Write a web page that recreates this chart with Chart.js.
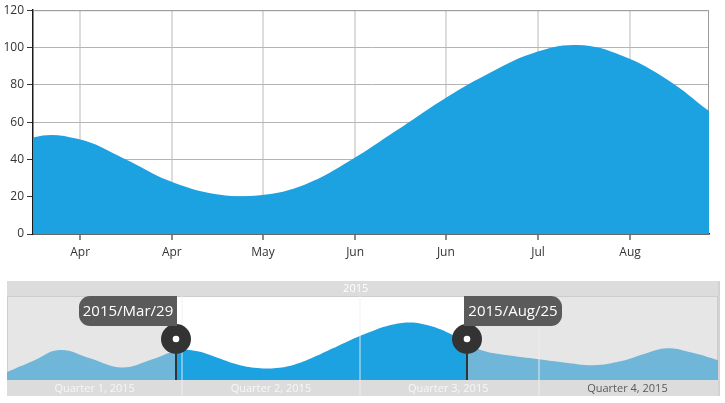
<!DOCTYPE html>
<html><head><meta charset="utf-8">
<script src="https://cdn.jsdelivr.net/npm/chart.js@4/dist/chart.umd.min.js"></script>
<style>
html,body{margin:0;padding:0;background:#fff;}
#wrap{position:relative;width:725px;height:403px;overflow:hidden;}
#main{position:absolute;left:0;top:0;width:725px;height:260px;}
#nav{position:absolute;left:0;top:281px;width:725px;height:115px;}
</style></head><body>
<div id="wrap">
<canvas id="main" width="725" height="260"></canvas>
<canvas id="nav" width="725" height="115"></canvas>
</div>
<script>
// ---- data (day of year 2015, Jan 1 = 0) ----
const days   = [0, 13, 27, 43, 59, 75, 87, 97, 107, 117, 127, 137, 147, 157, 167, 177, 187, 197, 207, 217, 227, 236, 244, 258, 272, 287, 301, 315, 327, 339, 352, 365];
const values = [14, 33, 53, 38, 22, 37, 51.7, 50.9, 40.5, 28.5, 21.5, 20.8, 26.6, 39.5, 55.3, 71.5, 85.5, 96.8, 101.3, 95.5, 82.5, 66, 52, 43, 37, 30.5, 26, 33, 46, 56, 48, 35];

// selected range
const selStart = 87;   // 2015/Mar/29
const selEnd = 236;    // 2015/Aug/25
const selLabels = ['2015/Mar/29', '2015/Aug/25'];

// main chart axis ticks
const tickDays = [97.4, 117.6, 137.7, 158, 178, 198.3, 218.6];
const tickLabels = ['Apr', 'Apr', 'May', 'Jun', 'Jun', 'Jul', 'Aug'];
const yMin = 0, yMax = 120, yStep = 20;

// navigator labels
const yearLabel = '2015';
const yearLabelDay = 179;
const quarterMid = [45, 135.5, 226.5, 318.5];
const quarterLabels = ['Quarter 1, 2015', 'Quarter 2, 2015', 'Quarter 3, 2015', 'Quarter 4, 2015'];
const quarterBounds = [90, 181, 273];
const quarterColors = ['#f7f7f7', '#f7f7f7', '#f7f7f7', '#5a5a5a'];
const navMax = 148;

const FONT = "'Open Sans', sans-serif";
const DARK = '#1ca1e1';
const LIGHT = '#6fb6d9';
const points = days.map((d, i) => ({ x: d, y: values[i] }));

// ---- main chart ----
const frame = {
  id: 'frame',
  beforeDatasetsDraw(chart) {
    const { ctx, chartArea: a } = chart;
    ctx.save();
    ctx.strokeStyle = '#9a9a9a';
    ctx.lineWidth = 1;
    ctx.beginPath();
    ctx.moveTo(a.left, a.top + 0.5);
    ctx.lineTo(a.right - 0.5, a.top + 0.5);
    ctx.lineTo(a.right - 0.5, a.bottom);
    ctx.stroke();
    ctx.restore();
  }
};

const lineEl = { line: { tension: 0.4, capBezierPoints: false, borderWidth: 0 }, point: { radius: 0 } };

new Chart(document.getElementById('main'), {
  type: 'line',
  data: { datasets: [{ data: points, fill: 'origin', backgroundColor: DARK, borderColor: DARK }] },
  options: {
    responsive: false, animation: false,
    elements: lineEl,
    plugins: { legend: { display: false }, tooltip: { enabled: false } },
    layout: { padding: { top: 9, right: 16, left: 0, bottom: 0 } },
    scales: {
      x: {
        type: 'linear', min: selStart, max: selEnd,
        afterBuildTicks: s => { s.ticks = tickDays.map(v => ({ value: v })); },
        afterFit: s => { s.height = 26; },
        ticks: { callback: (v, i) => tickLabels[i], color: '#333', font: { family: FONT, size: 12 }, padding: 5, maxRotation: 0, autoSkip: false },
        grid: { color: '#dcdcdc', lineWidth: 2, tickLength: 6, tickColor: '#8a8a8a', tickWidth: 2 },
        border: { color: '#1a1a1a', width: 1.5 }
      },
      y: {
        min: yMin, max: yMax,
        afterFit: s => { s.width = 33; },
        ticks: { stepSize: yStep, color: '#333', font: { family: FONT, size: 12 }, padding: 3 },
        grid: { color: '#b4b4b4', lineWidth: 1, tickLength: 6, tickColor: '#333' },
        border: { color: '#1a1a1a', width: 1.5 }
      }
    }
  },
  plugins: [frame]
});

// ---- navigator ----
function navFill(c) {
  const chart = c.chart;
  const a = chart.chartArea;
  if (!a) return DARK;
  const x = chart.scales.x;
  const g = chart.ctx.createLinearGradient(a.left, 0, a.right, 0);
  const p1 = Math.min(1, Math.max(0, (x.getPixelForValue(selStart) - a.left) / a.width));
  const p2 = Math.min(1, Math.max(0, (x.getPixelForValue(selEnd) - a.left) / a.width));
  g.addColorStop(0, LIGHT); g.addColorStop(p1, LIGHT);
  g.addColorStop(p1, DARK); g.addColorStop(p2, DARK);
  g.addColorStop(p2, LIGHT); g.addColorStop(1, LIGHT);
  return g;
}

const navBg = {
  id: 'navBg',
  beforeDraw(chart) {
    const { ctx, chartArea: a } = chart;
    const x = chart.scales.x;
    ctx.save();
    ctx.fillStyle = '#dcdcdc';
    ctx.fillRect(a.left, 0, a.width, a.top);
    ctx.fillRect(a.left, a.bottom, a.width, chart.height - a.bottom);
    ctx.fillStyle = '#e6e6e6';
    ctx.fillRect(a.left, a.top, a.width, a.height);
    const s = x.getPixelForValue(selStart), e = x.getPixelForValue(selEnd);
    ctx.fillStyle = '#fff';
    ctx.fillRect(s, a.top, e - s, a.height);
    ctx.fillStyle = '#d2d2d2';
    ctx.fillRect(a.right, 0, 2, chart.height);
    ctx.strokeStyle = '#cdcdcd';
    ctx.lineWidth = 1;
    ctx.strokeRect(a.left + 0.5, a.top + 0.5, a.width - 1, a.height - 1);
    ctx.restore();
  },
  afterDatasetsDraw(chart) {
    const { ctx, chartArea: a } = chart;
    const x = chart.scales.x;
    ctx.save();
    quarterBounds.forEach(b => {
      const px = Math.round(x.getPixelForValue(b));
      ctx.fillStyle = 'rgba(240,240,240,0.45)';
      ctx.fillRect(px - 1, a.top, 2, chart.height - a.top);
    });
    ctx.restore();
  }
};

const handles = {
  id: 'handles',
  afterDraw(chart) {
    const { ctx, chartArea: a } = chart;
    const x = chart.scales.x;
    ctx.save();
    [selStart, selEnd].forEach((d, i) => {
      const px = Math.round(x.getPixelForValue(d));
      ctx.fillStyle = '#333';
      ctx.fillRect(px - 1, a.top, 2, a.height);
      const cy = a.top + 43;
      ctx.beginPath(); ctx.arc(px, cy, 15, 0, Math.PI * 2); ctx.fill();
      ctx.fillStyle = '#fff';
      ctx.beginPath(); ctx.arc(px, cy, 3.3, 0, Math.PI * 2); ctx.fill();
      const w = 98, h = 30;
      const bx = i === 0 ? px + 1 - w : px - 3;
      const by = a.top;
      ctx.fillStyle = '#5a5a5a';
      ctx.beginPath();
      if (ctx.roundRect) ctx.roundRect(bx, by, w, h, i === 0 ? [11, 0, 0, 11] : [0, 11, 11, 0]);
      else ctx.rect(bx, by, w, h);
      ctx.fill();
      ctx.fillStyle = '#fff';
      ctx.font = "15px " + FONT;
      ctx.textAlign = 'center';
      ctx.textBaseline = 'middle';
      ctx.fillText(selLabels[i], bx + w / 2, by + h / 2 + 1);
    });
    ctx.restore();
  }
};

new Chart(document.getElementById('nav'), {
  type: 'line',
  data: { datasets: [{ data: points, fill: 'origin', backgroundColor: navFill, borderColor: DARK }] },
  options: {
    responsive: false, animation: false,
    elements: lineEl,
    plugins: { legend: { display: false }, tooltip: { enabled: false } },
    layout: { padding: { left: 7, right: 7, top: 0, bottom: 0 } },
    scales: {
      x: {
        type: 'linear', position: 'bottom', min: 0, max: 365,
        afterBuildTicks: s => { s.ticks = quarterMid.map(v => ({ value: v })); },
        afterFit: s => { s.height = 16; },
        ticks: { callback: (v, i) => quarterLabels[i], color: c => quarterColors[c.index], font: { family: FONT, size: 11 }, padding: 2, maxRotation: 0, autoSkip: false },
        grid: { display: false, drawTicks: false },
        border: { display: false }
      },
      xTop: {
        type: 'linear', position: 'top', min: 0, max: 365,
        afterBuildTicks: s => { s.ticks = [{ value: yearLabelDay }]; },
        afterFit: s => { s.height = 15; },
        ticks: { callback: () => yearLabel, color: '#fff', font: { family: FONT, size: 11 }, padding: 1, maxRotation: 0, autoSkip: false },
        grid: { display: false, drawTicks: false },
        border: { display: false }
      },
      y: { display: false, min: 0, max: navMax }
    }
  },
  plugins: [navBg, handles]
});
</script>
</body></html>
